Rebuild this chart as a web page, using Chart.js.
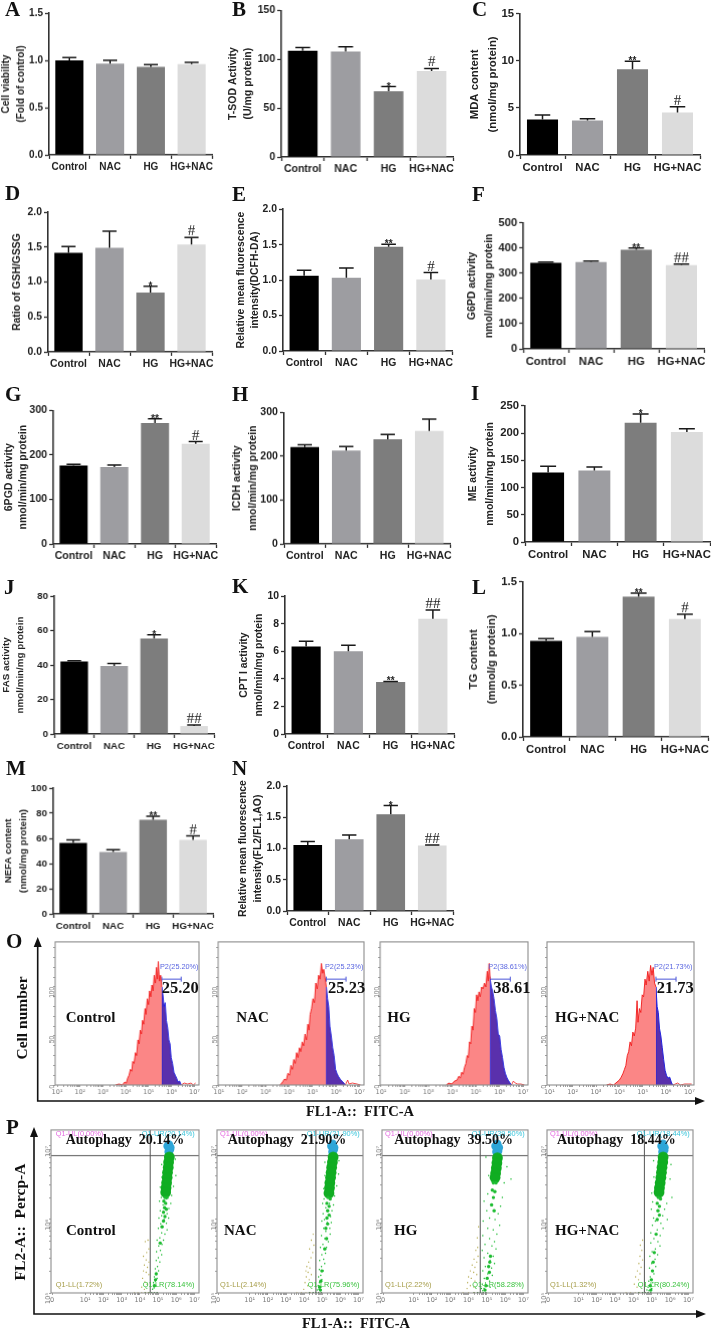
<!DOCTYPE html>
<html><head><meta charset="utf-8">
<script src="https://cdn.jsdelivr.net/npm/chart.js@4"></script>
<style>
html,body{margin:0;padding:0;background:#fff}
#stage{position:relative;width:711px;height:1329px;overflow:hidden;filter:blur(.35px)}
canvas{position:absolute;display:block}
.t{position:absolute;white-space:pre;line-height:1;transform:translateY(-50%)}
.serif{font-family:"Liberation Serif",serif;font-weight:bold;color:#111}
.sans{font-family:"Liberation Sans",sans-serif}
svg{position:absolute;left:0;top:0}
</style></head><body><div id="stage"></div>
<script>
const groups=['Control','NAC','HG','HG+NAC'];
const barColors=['#000000','#9d9da1','#7d7d7d','#dcdcdc'];

const valuesA=[1.0,0.965,0.93,0.96], tipsA=[1.03,1.0,0.955,0.98], marksA=['','','',''];
const valuesB=[108.6,108,67.2,88], tipsB=[112,112.7,72,90.6], marksB=['','','*','#'];
const valuesC=[3.78,3.67,9.1,4.52], tipsC=[4.24,3.85,9.96,5.12], marksC=['','','**','#'];
const valuesD=[1.42,1.49,0.85,1.54], tipsD=[1.51,1.73,0.94,1.64], marksD=['','','*','#'];
const valuesE=[1.06,1.035,1.47,1.01], tipsE=[1.14,1.17,1.506,1.106], marksE=['','','**','#'];
const valuesF=[341,344,393,332], tipsF=[344,348,400,336], marksF=['','','**','##'];
const valuesG=[176,173,271.6,225], tipsG=[179,177.6,281,230], marksG=['','','**','#'];
const valuesH=[221,213,238.6,257.6], tipsH=[226,222,250,285], marksH=['','','',''];
const valuesI=[127.7,131,219,202], tipsI=[139,137.5,235,208], marksI=['','','*',''];
const valuesJ=[42,39.4,55.4,4.6], tipsJ=[42.5,40.8,57.5,5.2], marksJ=['','','*','##'];
const valuesK=[6.35,6,3.77,8.36], tipsK=[6.74,6.45,3.82,9], marksK=['','','**','##'];
const valuesL=[0.93,0.968,1.357,1.14], tipsL=[0.95,1.02,1.39,1.186], marksL=['','','**','#'];
const valuesM=[56.5,49.3,74.8,58.9], tipsM=[58.9,51,77.7,62], marksM=['','','**','#'];
const valuesN=[1.06,1.15,1.55,1.05], tipsN=[1.115,1.22,1.69,1.06], marksN=['','','*','##'];

// flow histograms: [log10 FL1, count]
const histRed=[
[[3.55,0],[3.7,1],[3.85,0],[3.95,3],[4.02,2],[4.08,7],[4.14,10],[4.2,16],[4.26,14],[4.3,24],[4.36,22],[4.42,33],[4.47,30],[4.53,46],[4.58,42],[4.63,56],[4.68,52],[4.73,66],[4.78,62],[4.84,78],[4.88,72],[4.94,88],[4.99,82],[5.04,96],[5.09,90],[5.14,102],[5.19,96],[5.24,112],[5.29,104],[5.34,120],[5.38,108],[5.42,126],[5.47,106],[5.52,112],[5.57,100]],
[[3.62,0],[3.72,3],[3.8,6],[3.88,5],[3.95,12],[4.02,10],[4.08,20],[4.14,16],[4.2,26],[4.26,22],[4.32,33],[4.38,28],[4.44,38],[4.5,34],[4.56,44],[4.62,40],[4.68,52],[4.74,46],[4.8,62],[4.85,56],[4.9,72],[4.96,78],[5.02,88],[5.08,84],[5.14,104],[5.2,98],[5.26,112],[5.32,108],[5.38,124],[5.43,114],[5.48,118],[5.53,110],[5.59,100]],
[[3.75,0],[3.85,2],[3.98,1],[4.1,4],[4.2,5],[4.28,9],[4.34,7],[4.4,13],[4.46,11],[4.52,18],[4.58,22],[4.63,30],[4.68,28],[4.73,44],[4.78,42],[4.83,60],[4.88,56],[4.93,78],[4.98,74],[5.03,92],[5.08,86],[5.13,95],[5.18,90],[5.24,100],[5.3,98],[5.36,104],[5.42,100],[5.48,116],[5.52,106],[5.56,124],[5.6,108]],
[[3.45,0],[3.6,1],[3.75,0],[3.9,3],[4.0,5],[4.08,8],[4.16,12],[4.22,16],[4.28,20],[4.34,30],[4.4,34],[4.46,44],[4.52,40],[4.58,54],[4.64,50],[4.7,58],[4.76,86],[4.8,64],[4.86,78],[4.92,74],[4.98,92],[5.04,90],[5.1,108],[5.15,102],[5.22,116],[5.28,106],[5.34,122],[5.4,112],[5.45,120],[5.51,104],[5.57,100]]];
const histBlue=[
[[5.57,0],[5.57,100],[5.62,92],[5.67,80],[5.72,84],[5.77,66],[5.83,58],[5.88,46],[5.93,42],[5.98,28],[6.04,22],[6.1,13],[6.16,10],[6.22,7],[6.28,3],[6.35,4],[6.42,0]],
[[5.59,0],[5.59,100],[5.64,88],[5.69,80],[5.74,60],[5.8,50],[5.86,38],[5.92,30],[5.98,16],[6.04,12],[6.1,9],[6.18,6],[6.26,4],[6.34,2],[6.4,0]],
[[5.6,0],[5.6,108],[5.65,100],[5.7,96],[5.76,88],[5.82,76],[5.88,68],[5.94,52],[6.0,50],[6.06,36],[6.12,28],[6.18,18],[6.24,12],[6.3,8],[6.36,5],[6.44,2],[6.5,0]],
[[5.57,0],[5.57,100],[5.62,80],[5.67,74],[5.72,58],[5.78,50],[5.84,38],[5.9,26],[5.96,15],[6.02,10],[6.08,7],[6.16,8],[6.24,2],[6.3,0]]];
const histTail=[
[[6.42,0],[6.55,2],[6.7,1],[6.85,2],[6.95,0],[7.05,2]],
[[6.4,0],[6.5,5],[6.56,1],[6.7,2],[6.9,1],[7.05,0]],
[[6.5,0],[6.58,4],[6.66,2],[6.76,1],[6.9,1],[7.05,0]],
[[6.3,0],[6.5,2],[6.62,0],[6.8,1],[6.95,1],[7.1,1]]];
const gateEnds=[[5.57,6.42],[5.59,6.43],[5.6,6.45],[5.57,6.43]];
const bracketCount=108;
const histRates=['25.20','25.23','38.61','21.73'];

// quadrant scatter: [log10 FL1, log10 FL2]
const cyanPts=[
[[5.58,6.92],[5.66,6.95],[5.52,7.0],[5.6,7.02],[5.68,6.98]],
[[5.56,6.92],[5.64,6.95],[5.5,7.0],[5.58,7.03],[5.66,6.98]],
[[5.52,6.92],[5.62,6.93],[5.47,7.0],[5.57,7.03],[5.66,6.98]],
[[5.58,6.92],[5.68,6.94],[5.53,7.0],[5.62,7.03],[5.7,6.98]]];
const greenCore=[
[[5.62,6.85],[5.58,6.78],[5.56,6.71],[5.52,6.64],[5.5,6.57],[5.47,6.5],[5.44,6.43],[5.42,6.37]],
[[5.6,6.85],[5.56,6.78],[5.52,6.71],[5.49,6.64],[5.46,6.57],[5.42,6.5],[5.4,6.43],[5.37,6.36]],
[[5.58,6.84],[5.55,6.77],[5.52,6.7],[5.48,6.63],[5.45,6.57]],
[[5.62,6.85],[5.6,6.78],[5.56,6.71],[5.53,6.64],[5.5,6.57],[5.46,6.5],[5.42,6.43],[5.4,6.37]]];
const greenMid=[
[[5.38,6.3],[5.5,6.3],[5.32,6.25],[5.42,6.22],[5.36,6.16],[5.46,6.14],[5.3,6.1],[5.38,6.04],[5.3,5.98],[5.22,5.9],[5.12,5.68],[4.9,5.26],[4.86,5.18],[4.8,5.1]],
[[5.32,6.3],[5.44,6.28],[5.26,6.22],[5.38,6.18],[5.3,6.12],[5.38,6.06],[5.26,6.02],[5.3,5.94],[5.2,5.88],[5.24,5.74],[5.14,5.6],[4.98,5.3],[4.92,5.16],[4.86,5.08],[4.9,5.04]],
[[5.36,6.5],[5.5,6.5],[5.3,6.4],[5.44,6.38],[5.36,6.3],[5.26,6.2],[5.4,6.12],[5.2,5.5],[5.16,5.42],[5.1,5.36],[5.14,5.28],[5.02,5.2],[4.95,5.1],[4.9,5.04]],
[[5.36,6.3],[5.48,6.28],[5.3,6.22],[5.42,6.18],[5.34,6.12],[5.42,6.06],[5.3,6.0],[5.24,5.8],[5.14,5.55],[5.08,5.42],[5.04,5.3],[4.98,5.18],[4.92,5.1],[4.95,5.04]]];
const greenSparse=[
[[5.2,6.75],[5.95,6.82],[5.98,6.6],[5.22,6.58],[5.85,6.45],[5.12,6.44],[5.18,6.3],[5.75,6.33],[5.7,6.22],[5.08,6.25],[5.6,6.15],[5.12,6.12],[5.45,6.28],[5.28,6.2],[5.5,6.08],[5.2,6.05],[5.58,6.02],[5.33,6.0],[5.05,6.02],[5.46,5.95],[5.15,5.94],[5.27,5.9],[5.5,5.86],[5.02,5.88],[5.2,5.82],[5.38,5.8],[5.1,5.75],[5.3,5.72],[4.95,5.72],[5.22,5.66],[5.04,5.64],[5.13,5.58],[4.92,5.56],[5.2,5.52],[5.02,5.48],[4.9,5.44],[5.1,5.42],[4.97,5.36],[4.85,5.33],[5.03,5.3],[4.9,5.26],[4.8,5.22],[4.95,5.2],[4.85,5.16],[4.75,5.14],[4.88,5.1],[4.78,5.07],[4.7,5.05]],
[[5.15,6.78],[5.92,6.8],[5.9,6.62],[5.15,6.6],[5.8,6.46],[5.08,6.42],[5.1,6.28],[5.68,6.32],[5.62,6.2],[5.02,6.22],[5.54,6.12],[5.05,6.08],[5.4,6.22],[5.2,6.16],[5.46,6.04],[5.12,6.0],[5.5,5.96],[5.28,5.96],[4.98,5.98],[5.42,5.88],[5.08,5.88],[5.2,5.84],[5.44,5.8],[4.96,5.78],[5.14,5.74],[5.34,5.7],[5.04,5.66],[5.24,5.62],[4.9,5.62],[5.18,5.54],[4.98,5.52],[5.08,5.46],[4.86,5.44],[5.14,5.4],[4.96,5.36],[4.84,5.32],[5.06,5.3],[4.92,5.24],[4.8,5.22],[4.98,5.18],[4.84,5.14],[4.78,5.1],[4.9,5.08],[4.82,5.05],[4.72,5.04]],
[[4.95,6.85],[6.1,6.72],[6.32,6.55],[5.1,6.6],[5.95,6.5],[5.05,6.35],[5.85,6.3],[4.85,6.25],[5.75,6.18],[5.0,6.12],[5.62,6.08],[5.15,6.02],[5.45,6.0],[4.8,5.98],[5.7,5.92],[5.05,5.88],[5.35,5.86],[5.55,5.8],[4.78,5.78],[5.15,5.74],[5.42,5.7],[4.9,5.66],[5.28,5.64],[5.5,5.6],[4.75,5.58],[5.05,5.54],[5.35,5.5],[4.85,5.48],[5.18,5.44],[5.42,5.4],[4.92,5.36],[5.26,5.34],[4.78,5.3],[5.05,5.26],[5.3,5.24],[4.86,5.2],[5.15,5.16],[4.75,5.12],[5.05,5.1],[4.85,5.06],[5.18,5.08],[4.78,5.03],[4.7,5.06]],
[[5.1,6.8],[6.05,6.75],[6.0,6.55],[5.12,6.58],[6.1,6.3],[5.0,6.36],[5.05,6.24],[5.82,6.22],[5.7,6.14],[4.98,6.14],[5.6,6.05],[5.1,6.02],[5.85,6.0],[5.2,5.98],[5.5,5.95],[5.04,5.92],[5.62,5.88],[5.3,5.86],[4.95,5.82],[5.46,5.78],[5.12,5.74],[5.34,5.7],[4.95,5.68],[5.45,5.64],[5.2,5.6],[5.02,5.56],[5.32,5.52],[4.9,5.5],[5.18,5.46],[5.0,5.4],[5.22,5.36],[4.88,5.34],[5.12,5.26],[4.92,5.22],[4.84,5.16],[5.06,5.14],[4.8,5.08],[5.0,5.06],[4.85,5.03],[4.74,5.04]]];
const yellowPts=[
[[4.3,5.7],[4.45,5.72],[4.5,5.6],[4.38,5.55],[4.2,5.5],[4.35,5.45],[4.5,5.42],[4.25,5.38],[4.42,5.35],[4.2,5.3],[4.35,5.28],[4.5,5.25],[4.15,5.2],[4.28,5.15],[4.4,5.12],[4.1,5.08],[4.25,5.05],[3.7,5.0],[3.9,5.0],[4.1,5.0],[4.3,5.0],[4.45,5.0]],
[[4.5,5.8],[4.4,5.72],[4.54,5.65],[4.3,5.6],[4.48,5.55],[4.38,5.48],[4.25,5.42],[4.15,5.36],[4.32,5.34],[4.1,5.3],[4.22,5.28],[4.4,5.25],[4.12,5.22],[4.28,5.18],[4.05,5.14],[4.2,5.1],[3.98,5.05],[3.6,5.0],[3.85,5.0],[4.1,5.0],[4.35,5.0]],
[[4.55,5.9],[4.48,5.75],[4.5,5.62],[4.4,5.58],[4.52,5.5],[4.3,5.46],[4.45,5.42],[4.2,5.38],[4.35,5.35],[4.1,5.3],[4.28,5.28],[4.45,5.25],[4.0,5.22],[4.15,5.2],[4.35,5.16],[3.95,5.14],[4.1,5.1],[4.3,5.08],[3.92,5.06],[3.7,5.0],[4.0,5.0],[4.3,5.0]],
[[4.5,5.72],[4.38,5.65],[4.46,5.58],[4.36,5.5],[4.5,5.45],[4.3,5.4],[4.42,5.35],[4.22,5.3],[4.36,5.26],[4.12,5.22],[4.28,5.18],[4.05,5.12],[4.2,5.08],[3.6,5.0],[3.85,5.0],[4.1,5.0],[4.35,5.0]]];
const quadLine=[4.57,4.65,4.64,4.6];
const quadY=6.87;
const quadDark=[[4.3,5],[4.5,5],[4.65,5],[4.8,5],[4.95,5]];
const q1UL=['0.00','0.00','0.00','0.00'];
const q1UR=['20.14','21.90','39.50','18.44'];
const q1LL=['1.72','2.14','2.22','1.32'];
const q1LR=['78.14','75.96','58.28','80.24'];
const decadeLabels={1:'10¹',2:'10²',3:'10³',4:'10⁴',5:'10⁵',6:'10⁶',7:'10⁷'};
const minorSteps=[0.301,0.477,0.602,0.699,0.778,0.845,0.903,0.954];

Chart.defaults.animation=false;
Chart.defaults.font.family='"Liberation Sans",sans-serif';
const stage=document.getElementById('stage');
function mk(x,y,w,h){const c=document.createElement('canvas');c.width=w;c.height=h;c.style.left=x+'px';c.style.top=y+'px';c.style.width=w+'px';c.style.height=h+'px';stage.appendChild(c);return c;}
function txt(s,x,y,cls,css){const d=document.createElement('div');d.className='t '+cls;d.textContent=s;d.style.left=x+'px';d.style.top=y+'px';d.style.cssText+=';'+css;stage.appendChild(d);return d;}

const errPlugin={id:'errs',afterDatasetsDraw(ch,_,o){
  const c=ch.ctx,ys=ch.scales.y,meta=ch.getDatasetMeta(0);c.save();
  meta.data.forEach((b,i)=>{
    const yt=ys.getPixelForValue(o.tips[i]),yb=ys.getPixelForValue(o.values[i]);
    const half=b.width*0.25;
    c.strokeStyle='#1a1a1a';c.lineWidth=1.5;c.beginPath();
    c.moveTo(b.x,yb);c.lineTo(b.x,yt);c.moveTo(b.x-half,yt);c.lineTo(b.x+half,yt);c.stroke();
    const m=o.marks[i];if(!m)return;
    c.fillStyle='#222';c.textAlign='center';
    if(m[0]==='*'){c.font='bold 10px "Liberation Sans"';c.textBaseline='alphabetic';c.fillText(m,b.x,yt+3);}
    else{c.font='15px "Liberation Serif"';c.textBaseline='alphabetic';c.fillText(m,b.x,yt-2);}
  });c.restore();
}};

function barPanel(p){
  const pad=60,w=p.R-p.L+pad+6,h=p.B-p.T+8+26;
  const cv=mk(p.L-pad,p.T-8,w,h);
  const lh=p.gap||15;
  new Chart(cv,{type:'bar',
    data:{labels:groups,datasets:[{data:p.values,backgroundColor:barColors,barPercentage:0.69,categoryPercentage:1}]},
    plugins:[errPlugin],
    options:{responsive:false,devicePixelRatio:1,
      layout:{autoPadding:false,padding:{top:8,right:6,left:0,bottom:0}},
      plugins:{legend:{display:false},tooltip:{enabled:false},errs:{tips:p.tips,values:p.values,marks:p.marks}},
      scales:{
        x:{grid:{display:true,drawOnChartArea:false,tickLength:4,tickColor:'#333',tickWidth:1.3},
           border:{color:'#333',width:1.6},
           ticks:{color:'#222',font:{size:p.fs,weight:'bold'},padding:2,maxRotation:0,autoSkip:false},
           afterFit(s){s.height=26;}},
        y:{min:0,max:p.max,
           afterBuildTicks(s){s.ticks=p.ticks.map(v=>({value:v}));},
           grid:{display:true,drawOnChartArea:false,tickLength:4,tickColor:'#333',tickWidth:1.3},
           border:{color:'#333',width:1.6},
           ticks:{color:'#222',font:{size:p.fs,weight:'bold'},padding:2,callback:v=>p.ticks.find(t=>t===v)!==undefined?p.fmt(v):''},
           title:{display:true,text:p.title,color:'#222',font:{size:p.tfs||p.fs,weight:'bold',lineHeight:lh/(p.tfs||p.fs)},padding:{top:Math.max(0,pad+p.tc-lh/2),bottom:0}},
           afterFit(s){s.width=pad;}}
      }}});
}
const f1=v=>v.toFixed(1), f0=v=>String(v);
const nmol='nmol/min/mg protein';
[
{L:48.7,T:13,R:212,B:154.5,fs:10,max:1.5,ticks:[0,.5,1,1.5],fmt:f1,title:['Cell viability','(Fold of control)'],tc:-42.7,gap:15,values:valuesA,tips:tipsA,marks:marksA},
{L:281,T:9.5,R:452.7,B:156.5,fs:10.5,max:150,ticks:[0,50,100,150],fmt:f0,title:['T-SOD Activity','(U/mg protein)'],tc:-48,gap:15,values:valuesB,tips:tipsB,marks:marksB},
{L:520,T:13,R:700,B:155,fs:11.3,max:15,ticks:[0,5,10,15],fmt:f0,title:['MDA content','(nmol/mg protein)'],tc:-45,gap:17.5,values:valuesC,tips:tipsC,marks:marksC},
{L:47.7,T:212.3,R:212,B:351.7,fs:10.4,max:2,ticks:[0,.5,1,1.5,2],fmt:f1,title:['Ratio of GSH/GSSG'],tc:-31,gap:15,values:valuesD,tips:tipsD,marks:marksD},
{L:283,T:209,R:452,B:351,fs:10.4,max:2,ticks:[0,.5,1,1.5,2],fmt:f1,title:['Relative mean fluorescence','intensity(DCFH-DA)'],tc:-42,gap:14.3,values:valuesE,tips:tipsE,marks:marksE},
{L:523.3,T:222.3,R:704,B:348.7,fs:11.3,max:500,ticks:[0,100,200,300,400,500],fmt:f0,title:['G6PD activity',nmol],tfs:10.5,tc:-51,gap:17,values:valuesF,tips:tipsF,marks:marksF},
{L:53.3,T:410,R:216,B:544,fs:10.6,max:300,ticks:[0,100,200,300],fmt:f0,title:['6PGD activity',nmol],tc:-44,gap:14,values:valuesG,tips:tipsG,marks:marksG},
{L:284,T:412.3,R:450,B:544.3,fs:10.6,max:300,ticks:[0,100,200,300],fmt:f0,title:['ICDH activity',nmol],tc:-46.7,gap:15.4,values:valuesH,tips:tipsH,marks:marksH},
{L:525,T:405,R:710,B:542,fs:11.3,max:250,ticks:[0,50,100,150,200,250],fmt:f0,title:['ME activity',nmol],tfs:10.5,tc:-52.3,gap:16.6,values:valuesI,tips:tipsI,marks:marksI},
{L:54.4,T:595.7,R:214,B:734.3,fs:9.8,max:80,ticks:[0,20,40,60,80],fmt:f0,title:['FAS activity',nmol],tc:-47.6,gap:13.6,values:valuesJ,tips:tipsJ,marks:marksJ},
{L:284.5,T:595.7,R:453.7,B:733.7,fs:10.4,max:10,ticks:[0,2,4,6,8,10],fmt:f0,title:['CPT I activity',nmol],tc:-40.5,gap:14.6,values:valuesK,tips:tipsK,marks:marksK},
{L:523,T:581,R:708,B:736.7,fs:11.3,max:1.5,ticks:[0,.5,1,1.5],fmt:f1,title:['TG content','(mmol/g protein)'],tc:-49,gap:18,values:valuesL,tips:tipsL,marks:marksL},
{L:53.3,T:788.3,R:213,B:914,fs:9.8,max:100,ticks:[0,20,40,60,80,100],fmt:f0,title:['NEFA content','(nmol/mg protein)'],tc:-45,gap:15,values:valuesM,tips:tipsM,marks:marksM},
{L:287,T:785.7,R:453,B:910.7,fs:10.4,max:2,ticks:[0,.5,1,1.5,2],fmt:f1,title:['Relative mean fluorescence','intensity(FL2/FL1,AO)'],tc:-44,gap:15,values:valuesN,tips:tipsN,marks:marksN}
].forEach(barPanel);

// panel letters
[['A',5,9],['B',232,9],['C',472,9],['D',5,193],['E',232,194],['F',472,194],['G',5,394],['H',232,394],['I',471,393],['J',4,587],['K',232,586],['L',472,587],['M',6,768],['N',232,768],['O',6,941],['P',6,1127]]
.forEach(a=>txt(a[0],a[1],a[2],'serif','font-size:21px'));

const framePlugin={id:'frame',afterDraw(ch){const a=ch.chartArea,c=ch.ctx;c.save();c.strokeStyle='#8d8d8d';c.lineWidth=1.1;c.strokeRect(a.left,a.top,a.width,a.height);c.restore();}};
const pairs=a=>a.map(p=>({x:p[0],y:p[1]}));
const minorTicks=(a,b)=>{const t=[];for(let d=a;d<b;d++){t.push({value:d});minorSteps.forEach(m=>t.push({value:d+m}));}t.push({value:b});return t;};

// O histograms
[{L:55.3,R:199,xmin:0.91},{L:218.3,R:364,xmin:0.97},{L:380,R:527.7,xmin:0.96},{L:547,R:694,xmin:0.9}].forEach((p,i)=>{
  const T=939,B=1085,pad=22;
  const cv=mk(p.L-pad,T-2,p.R-p.L+pad+3,B-T+2+16);
  new Chart(cv,{type:'scatter',
    data:{datasets:[
      {data:pairs(histRed[i]),showLine:true,fill:'origin',borderColor:'#f01818',borderWidth:.9,backgroundColor:'#fb8686',pointRadius:0,tension:0},
      {data:pairs(histBlue[i]),showLine:true,fill:'origin',borderColor:'#2222dd',borderWidth:1,backgroundColor:'#5a30ac',pointRadius:0,tension:0},
      {data:pairs(histTail[i]),showLine:true,borderColor:'#f01818',borderWidth:.8,pointRadius:0},
      {data:[{x:gateEnds[i][0],y:bracketCount},{x:gateEnds[i][1],y:bracketCount}],showLine:true,borderColor:'#4a55d8',borderWidth:1,pointStyle:'line',pointRotation:90,pointRadius:2.5,pointBorderColor:'#4a55d8',pointBorderWidth:1}
    ]},
    plugins:[framePlugin],
    options:{responsive:false,devicePixelRatio:1,
      layout:{autoPadding:false,padding:{top:2,right:3,left:0,bottom:0}},
      plugins:{legend:{display:false},tooltip:{enabled:false}},
      scales:{
        x:{type:'linear',min:p.xmin,max:7.2,
           afterBuildTicks(s){s.ticks=minorTicks(1,7);},
           grid:{display:true,drawOnChartArea:false,tickLength:2,tickColor:'#777',tickWidth:.7},border:{display:false},
           ticks:{color:'#777',font:{size:6.5,family:'"DejaVu Sans"'},padding:1,maxRotation:0,autoSkip:false,callback:v=>decadeLabels[v]||''},
           afterFit(s){s.height=16;}},
        y:{min:0,max:146,
           afterBuildTicks(s){s.ticks=[0,10,20,30,40,50,60,70,80,90,100,110,120,130,140].map(v=>({value:v}));},
           grid:{display:true,drawOnChartArea:false,tickLength:2,tickColor:'#777',tickWidth:.7},border:{display:false},
           ticks:{color:'#777',font:{size:6.5},padding:1,minRotation:90,maxRotation:90,autoSkip:false,callback:v=>(v%50===0?String(v):'')},
           afterFit(s){s.width=pad;}}
      }}});
});
[['Control',65.7,'25.20',161.7,160],['NAC',236.3,'25.23',328,325],['HG',387.3,'38.61',493.3,488.3],['HG+NAC',555,'21.73',656.7,654]].forEach((a,i)=>{
  txt(a[0],a[1],1017,'serif','font-size:15px');
  txt(histRates[i],a[3],988,'serif','font-size:16.5px');
  txt('P2('+histRates[i]+'%)',a[4],967,'sans','font-size:7.3px;color:#5a66e0');
});

// P quadrant scatter
[{L:50.7,R:199,xmin:-0.88,tx:[55.7,141.7,142.7],ax:65.7,nm:66,lb:'Control'},
 {L:217.3,R:363.3,xmin:-0.81,tx:[220,306.7,307.7],ax:227.7,nm:224,lb:'NAC'},
 {L:381.7,R:527.7,xmin:-0.73,tx:[385,471.7,472.3],ax:394.3,nm:394,lb:'HG'},
 {L:546.7,R:693,xmin:-0.71,tx:[550,636.7,637.7],ax:557,nm:555,lb:'HG+NAC'}].forEach((p,i)=>{
  const T=1127,B=1292.7,pad=20;
  const cv=mk(p.L-pad,T-2,p.R-p.L+pad+3,B-T+2+16);
  const zero=p.xmin+0.06;
  const xt=[{value:zero}].concat(minorTicks(1,7));
  new Chart(cv,{type:'scatter',
    data:{datasets:[
      {data:pairs(yellowPts[i]),backgroundColor:'#b4a94e',pointRadius:.7,borderWidth:0},
      {data:pairs(quadDark),backgroundColor:'#1c6a22',pointRadius:.9,borderWidth:0},
      {data:pairs(greenSparse[i]),backgroundColor:'#16b82c',pointRadius:.75,borderWidth:0},
      {data:pairs(greenMid[i]),backgroundColor:'#1cbc30',pointRadius:1.7,borderWidth:0},
      {data:pairs(greenCore[i]),backgroundColor:'#10ad22',pointRadius:5.4,borderWidth:0},
      {data:pairs(cyanPts[i]),backgroundColor:'#2ea6d8',pointRadius:4.2,borderWidth:0},
      {data:[{x:quadLine[i],y:5},{x:quadLine[i],y:7.22}],showLine:true,borderColor:'#555',borderWidth:1,pointRadius:0},
      {data:[{x:p.xmin,y:quadY},{x:7.25,y:quadY}],showLine:true,borderColor:'#555',borderWidth:1,pointRadius:0}
    ]},
    plugins:[framePlugin],
    options:{responsive:false,devicePixelRatio:1,
      layout:{autoPadding:false,padding:{top:2,right:3,left:0,bottom:0}},
      plugins:{legend:{display:false},tooltip:{enabled:false}},
      scales:{
        x:{type:'linear',min:p.xmin,max:7.25,
           afterBuildTicks(s){s.ticks=xt;},
           grid:{display:true,drawOnChartArea:false,tickLength:2,tickColor:'#777',tickWidth:.7},border:{display:false},
           ticks:{color:'#777',font:{size:6.5,family:'"DejaVu Sans"'},padding:1,maxRotation:0,autoSkip:false,callback:v=>v===zero?'0':(decadeLabels[v]||'')},
           afterFit(s){s.height=16;}},
        y:{type:'linear',min:5,max:7.22,
           afterBuildTicks(s){s.ticks=minorTicks(5,7);},
           grid:{display:true,drawOnChartArea:false,tickLength:2,tickColor:'#777',tickWidth:.7},border:{display:false},
           ticks:{color:'#777',font:{size:6.5,family:'"DejaVu Sans"'},padding:1,minRotation:90,maxRotation:90,autoSkip:false,callback:v=>decadeLabels[v]||''},
           afterFit(s){s.width=pad;}}
      }}});
  const sm='font-size:7.4px;';
  txt('Q1-UL('+q1UL[i]+'%)',p.tx[0],1134,'sans',sm+'color:#e46ae0');
  txt('Q1-UR('+q1UR[i]+'%)',p.tx[1],1134,'sans',sm+'color:#38c4da');
  txt('Q1-LL('+q1LL[i]+'%)',p.tx[0],1285,'sans',sm+'color:#a59c48');
  txt('Q1-LR('+q1LR[i]+'%)',p.tx[2],1285,'sans',sm+'color:#38c23c');
  txt('Autophagy  '+q1UR[i]+'%',p.ax,1140,'serif','font-size:14px');
  txt(p.lb,p.nm,1230,'serif','font-size:15px');
});

// axis arrows and big axis captions
const ns='http://www.w3.org/2000/svg';
const svg=document.createElementNS(ns,'svg');svg.setAttribute('width','711');svg.setAttribute('height','1329');
svg.innerHTML='<path d="M37.7 946V1101H698M34 1134V1314H700" fill="none" stroke="#111" stroke-width="1.6"/>'+
 '<path d="M37.7 937l-4 10h8zM34 1127l-4 10h8zM705 1101l-10 -4v8zM706 1314l-10 -4v8z" fill="#111"/>';
stage.appendChild(svg);
txt('Cell number',22,1018,'serif','font-size:15.5px;transform:translate(-50%,-50%) rotate(-90deg)');
txt('FL2-A::  Percp-A',20,1222,'serif','font-size:15.5px;transform:translate(-50%,-50%) rotate(-90deg)');
txt('FL1-A::  FITC-A',306,1111,'serif','font-size:14.5px');
txt('FL1-A::  FITC-A',302,1323,'serif','font-size:14.5px');
</script></body></html>
